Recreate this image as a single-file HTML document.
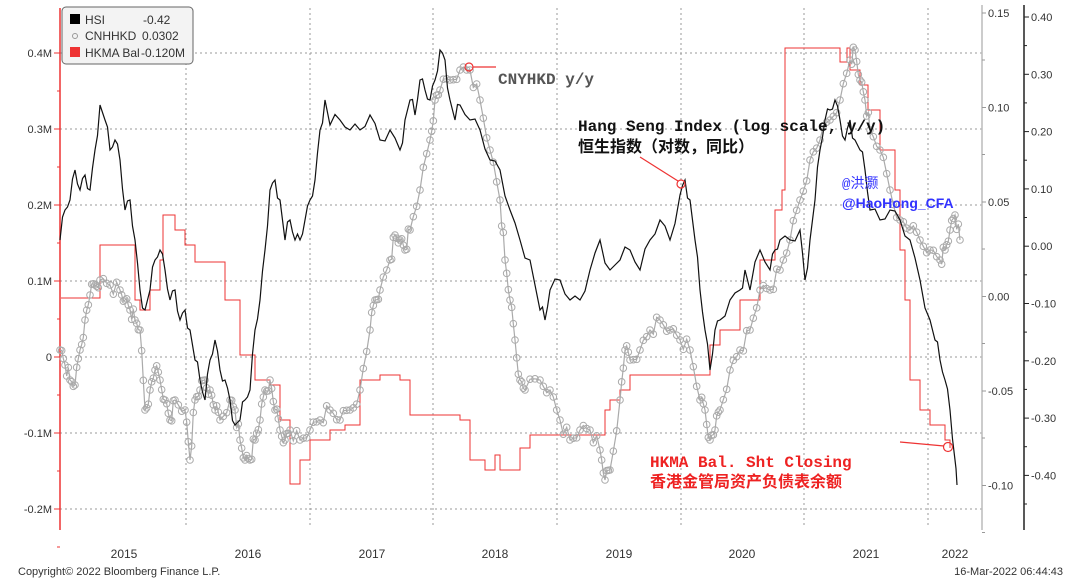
<!DOCTYPE html>
<html><head><meta charset="utf-8"><style>
body{margin:0;background:#fff;width:1080px;height:584px;overflow:hidden;font-family:"Liberation Sans",sans-serif}
svg{display:block}
.t{font-family:"Liberation Sans",sans-serif;font-size:11px;fill:#333}
.a{font-family:"Liberation Mono","Noto Sans CJK SC",monospace;font-weight:bold;font-size:16px}
</style></head><body>
<svg id="s" width="1080" height="584" xmlns="http://www.w3.org/2000/svg">
<g stroke="#999" stroke-dasharray="2,3" stroke-width="1" fill="none">
<line x1="60" x2="982" y1="53" y2="53"/><line x1="60" x2="982" y1="129" y2="129"/><line x1="60" x2="982" y1="205" y2="205"/><line x1="60" x2="982" y1="281" y2="281"/><line x1="60" x2="982" y1="357" y2="357"/><line x1="60" x2="982" y1="433" y2="433"/><line x1="60" x2="982" y1="509" y2="509"/>
<line x1="186" x2="186" y1="8" y2="525"/><line x1="310" x2="310" y1="8" y2="525"/><line x1="433" x2="433" y1="8" y2="525"/><line x1="557" x2="557" y1="8" y2="525"/><line x1="681" x2="681" y1="8" y2="525"/><line x1="804" x2="804" y1="8" y2="525"/><line x1="928" x2="928" y1="8" y2="525"/>
</g>
<line x1="60" x2="60" y1="8" y2="530" stroke="#e33" stroke-width="1.5"/>
<line x1="982" x2="982" y1="5" y2="530" stroke="#bbb" stroke-width="1.5"/>
<line x1="1024" x2="1024" y1="5" y2="530" stroke="#222" stroke-width="1.5"/>
<g id="ax"></g>
<g id="ser"></g>
<g fill="none" stroke="#e33" stroke-width="1.2">
<circle cx="469" cy="67" r="4"/><line x1="473" y1="67" x2="496" y2="67"/>
<circle cx="681" cy="184" r="4"/><line x1="678" y1="181" x2="640" y2="157"/>
<circle cx="948" cy="447" r="4.5"/><line x1="944" y1="446" x2="900" y2="442"/>
</g>
<text class="a" x="498" y="84" fill="#555">CNYHKD y/y</text>
<text class="a" x="578" y="131" fill="#111">Hang Seng Index (log scale, y/y)</text>
<text class="a" x="578" y="152" fill="#111">恒生指数（对数，同比）</text>
<text x="842" y="188" fill="#33f" font-size="14" font-family="Liberation Mono,'Noto Sans CJK SC',monospace">@洪灏</text>
<text x="842" y="208" fill="#33f" font-size="14" font-weight="bold" font-family="Liberation Sans,sans-serif">@HaoHong_CFA</text>
<text class="a" x="650" y="467" fill="#e22">HKMA Bal. Sht Closing</text>
<text class="a" x="650" y="487" fill="#e22">香港金管局资产负债表余额</text>
<rect x="62" y="7" width="131" height="57" rx="4" fill="#f3f3f3" stroke="#666"/>
<rect x="70" y="14" width="10" height="10" fill="#000"/>
<circle cx="75" cy="36" r="2.5" fill="none" stroke="#999"/>
<rect x="70" y="47" width="10" height="10" fill="#e33"/>
<g class="t" style="font-size:12px"><text x="85" y="24">HSI</text><text x="143" y="24">-0.42</text><text x="85" y="40">CNHHKD</text><text x="142" y="40">0.0302</text><text x="85" y="57">HKMA Bal</text><text x="141" y="57">-0.120M</text></g>
<g class="t" text-anchor="middle" style="font-size:12px"><text x="124" y="558">2015</text><text x="248" y="558">2016</text><text x="372" y="558">2017</text><text x="495" y="558">2018</text><text x="619" y="558">2019</text><text x="742" y="558">2020</text><text x="866" y="558">2021</text><text x="955" y="558">2022</text></g>
<text class="t" x="18" y="575">Copyright© 2022 Bloomberg Finance L.P.</text>
<text class="t" x="1063" y="575" text-anchor="end">16-Mar-2022 06:44:43</text>
</svg>
<script>
var NS="http://www.w3.org/2000/svg",ax=document.getElementById('ax'),ser=document.getElementById('ser');
function el(t,a,p){var e=document.createElementNS(NS,t);for(var k in a)e.setAttribute(k,a[k]);if(a.txt){e.textContent=a.txt;}(p||ax).appendChild(e);return e}
var L=["0.4M","0.3M","0.2M","0.1M","0","-0.1M","-0.2M"];
L.forEach(function(s,i){var y=53+i*76;el('line',{x1:54,x2:60,y1:y,y2:y,stroke:'#e33'});el('text',{x:52,y:y+4,'text-anchor':'end','class':'t',txt:s});el('line',{x1:57,x2:60,y1:y+38,y2:y+38,stroke:'#e33'});});
var G=["0.15","0.10","0.05","0.00","-0.05","-0.10"];
G.forEach(function(s,i){var y=13+i*94.5;el('line',{x1:982,x2:986,y1:y,y2:y,stroke:'#999'});el('text',{x:988,y:y+4,'class':'t',txt:s});el('line',{x1:982,x2:985,y1:y+47,y2:y+47,stroke:'#999'});});
var B=["0.40","0.30","0.20","0.10","0.00","-0.10","-0.20","-0.30","-0.40"];
B.forEach(function(s,i){var y=17+i*57.3;el('line',{x1:1024,x2:1029,y1:y,y2:y,stroke:'#222'});el('text',{x:1031,y:y+4,'class':'t',txt:s});el('line',{x1:1024,x2:1027,y1:y+28.6,y2:y+28.6,stroke:'#222'});});
var red=[[61,298],[100,298],[100,245],[135,245],[135,300],[140,310],[150,290],[160,260],[163,215],[175,230],[185,245],[195,262],[220,262],[225,300],[240,355],[255,380],[270,385],[280,420],[290,484],[300,460],[310,440],[330,430],[345,425],[360,380],[380,375],[400,380],[410,415],[460,420],[470,460],[480,460],[485,470],[493,470],[495,455],[500,470],[515,470],[520,448],[530,435],[600,435],[605,410],[610,400],[620,390],[630,375],[700,375],[710,345],[720,330],[740,300],[760,260],[775,210],[782,190],[785,48],[838,48],[840,62],[845,62],[847,48],[850,70],[860,85],[868,110],[880,150],[895,190],[900,250],[905,300],[910,380],[920,410],[930,425],[945,440],[950,448]];
function step(a){var r=[];for(var i=0;i<a.length;i++){if(i>0)r.push(a[i][0]+','+a[i-1][1]);r.push(a[i].join(','));}return r.join(' ')}
el('polyline',{points:step(red),fill:'none',stroke:'#e33','stroke-width':1},ser);
var g=[[60,350],[65,365],[70,380],[75,385],[80,350],[85,320],[90,295],[95,285],[100,280],[110,285],[120,290],[125,300],[130,310],[135,320],[140,330],[145,410],[150,390],[155,370],[160,380],[165,400],[170,420],[175,400],[185,410],[190,460],[195,400],[200,390],[205,380],[210,390],[215,410],[220,420],[230,400],[235,410],[240,440],[245,460],[250,460],[255,440],[260,420],[265,390],[270,380],[275,410],[280,430],[285,440],[290,430],[300,440],[310,430],[320,420],[330,410],[340,420],[350,410],[360,390],[370,330],[375,300],[380,290],[390,260],[395,235],[400,240],[405,250],[410,230],[420,190],[430,140],[435,100],[440,90],[450,80],[460,70],[470,70],[480,100],[490,150],[500,200],[505,260],[510,300],[515,340],[520,380],[525,390],[540,380],[550,390],[560,420],[570,440],[580,430],[590,430],[600,450],[605,480],[610,470],[620,400],[625,350],[630,360],[640,350],[650,330],[660,320],[670,330],[680,340],[690,350],[700,400],[705,410],[710,440],[715,430],[720,410],[730,370],[740,350],[750,330],[760,290],[770,290],[780,270],[790,240],[800,200],[810,160],[820,140],[830,120],[840,100],[850,60],[855,50],[860,80],[865,100],[870,130],[880,150],[890,190],[900,220],[910,230],[920,240],[930,250],[940,260],[945,250],[950,230],[955,215],[960,240]];
var pts=[];for(var i=0;i<g.length-1;i++){for(var k=0;k<3;k++){var t=k/3,x=g[i][0]+(g[i+1][0]-g[i][0])*t,y=g[i][1]+(g[i+1][1]-g[i][1])*t+(k?((i*7+k*13)%11-5)*1.5:0);pts.push([x,y]);}}pts.push(g[g.length-1]);
el('polyline',{points:pts.map(function(p){return p[0].toFixed(1)+','+p[1].toFixed(1)}).join(' '),fill:'none',stroke:'#aaa','stroke-width':1.2},ser);
pts.forEach(function(p){el('circle',{cx:p[0],cy:p[1],r:3.3,fill:'none',stroke:'#aaa','stroke-width':1},ser)});
var h=[[60,240],[65,210],[70,200],[75,170],[80,190],[85,175],[90,190],[95,150],[100,105],[105,120],[110,150],[115,140],[120,160],[125,210],[130,200],[135,240],[140,290],[145,310],[150,290],[155,260],[160,250],[165,270],[170,300],[175,290],[180,320],[185,310],[190,330],[195,360],[200,380],[205,400],[210,360],[215,340],[220,370],[225,380],[230,400],[235,425],[240,420],[245,400],[250,390],[255,330],[260,300],[265,250],[270,190],[275,180],[280,200],[285,240],[290,220],[295,240],[300,240],[305,220],[310,200],[315,180],[320,130],[325,100],[330,125],[340,120],[350,130],[360,130],[370,115],[380,140],[390,130],[400,150],[405,120],[410,100],[415,115],[420,80],[425,90],[430,100],[435,80],[440,50],[445,60],[450,100],[455,120],[460,105],[470,120],[480,130],[490,160],[500,170],[510,210],[520,240],[530,260],[540,310],[545,320],[550,290],[560,280],[570,300],[580,300],[590,270],[600,240],[610,270],[620,260],[630,250],[640,270],[650,240],[660,220],[670,240],[680,195],[685,180],[690,200],[695,240],[700,290],[705,330],[710,370],[715,330],[720,320],[730,300],[740,290],[745,270],[750,290],[760,250],[770,270],[775,250],[780,240],[790,240],[800,230],[805,280],[810,240],[815,200],[820,150],[825,120],[830,110],[835,100],[840,120],[845,140],[850,120],[855,140],[860,150],[865,170],[870,210],[880,220],[890,210],[900,220],[910,240],[920,280],[930,320],[935,340],[940,360],[945,380],[950,410],[955,460],[957,485]];
var hp=[];for(var i=0;i<h.length-1;i++){for(var k=0;k<2;k++){var t=k/2;hp.push((h[i][0]+(h[i+1][0]-h[i][0])*t).toFixed(1)+','+(h[i][1]+(h[i+1][1]-h[i][1])*t+(k?((i*5)%9-4)*2:0)).toFixed(1));}}hp.push(h[h.length-1].join(','));
el('polyline',{points:hp.join(' '),fill:'none',stroke:'#111','stroke-width':1.2},ser);
</script>
</body></html>
